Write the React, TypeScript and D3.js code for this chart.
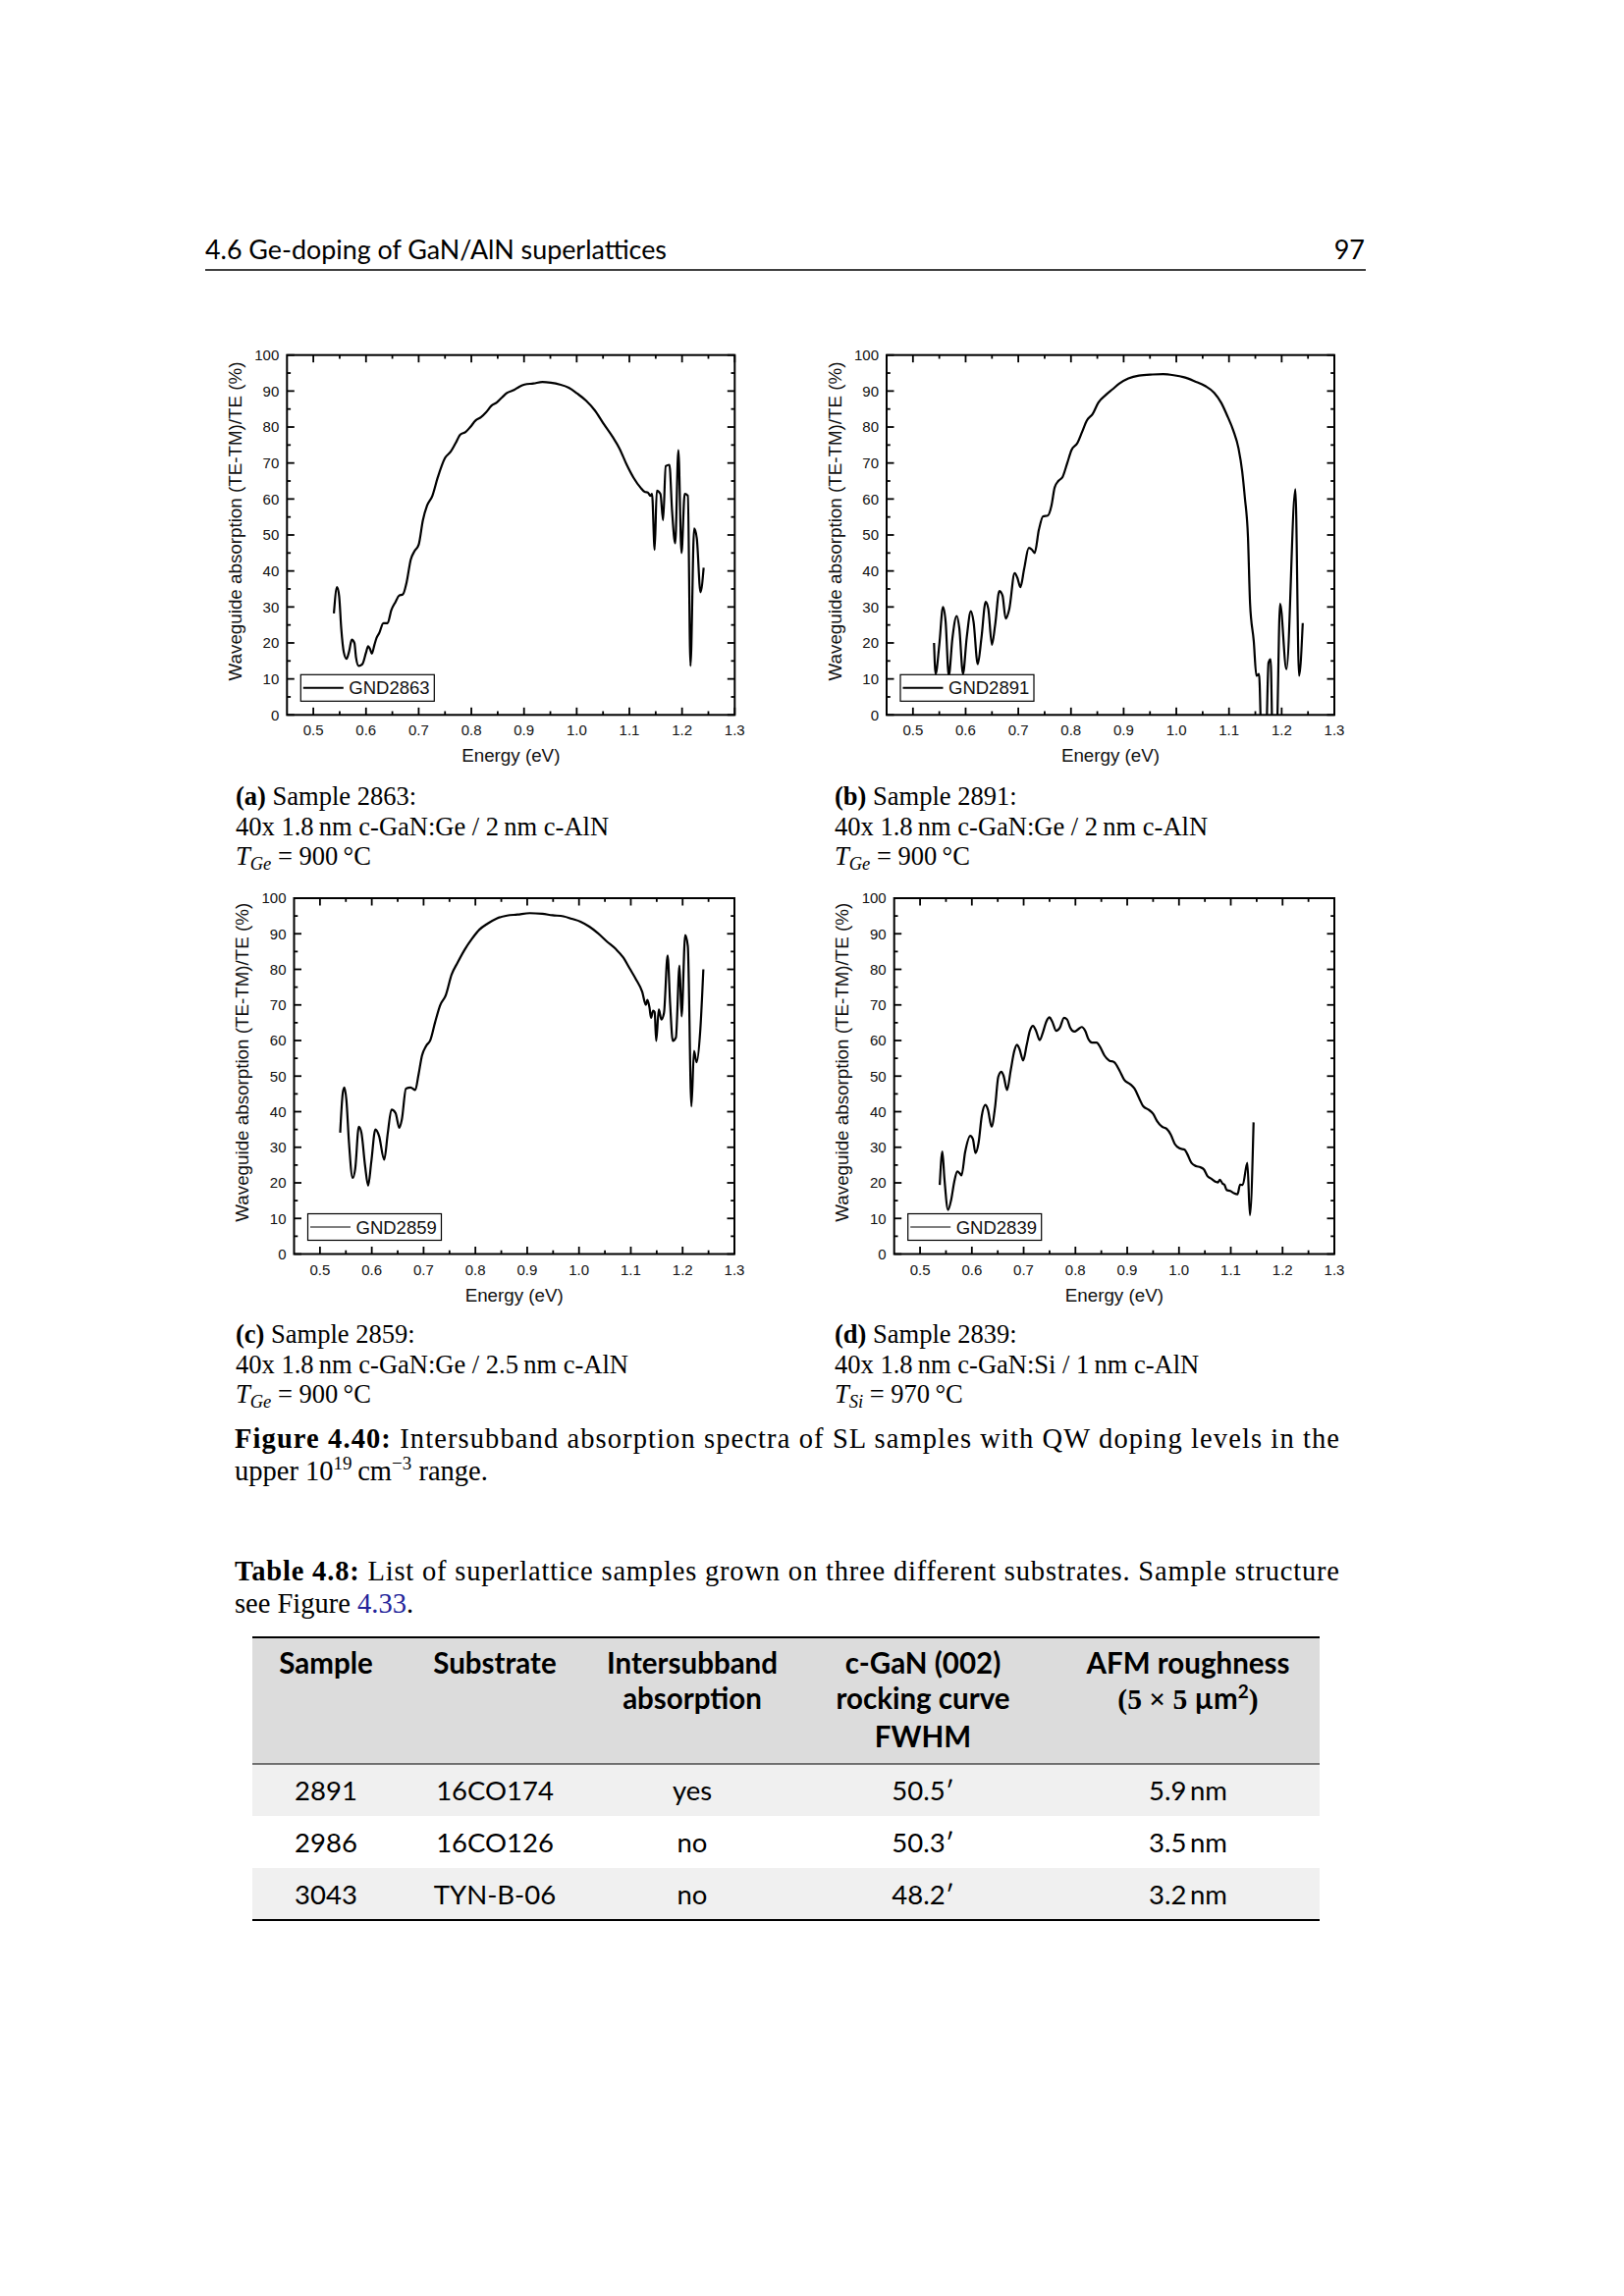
import * as d3 from "d3";

// ---- data (energy eV, absorption %) ----
const gnd2863: [number, number][] = [
  [0.539, 28.2], [0.545, 35.5], [0.549, 33], [0.553, 24], [0.558, 17.3], [0.563, 15.6], [0.568, 17.7],
  [0.573, 20.9], [0.578, 20], [0.581, 16], [0.586, 13.6], [0.593, 14.1], [0.6, 17.3], [0.604, 19.1],
  [0.608, 18.2], [0.611, 17], [0.616, 19.5], [0.62, 21.4], [0.625, 22.7], [0.633, 25.5], [0.641, 25.5],
  [0.648, 29.1], [0.656, 31.4], [0.663, 33.2], [0.67, 33.5], [0.677, 36.8], [0.685, 43.2], [0.692, 45.5],
  [0.7, 47.3], [0.708, 54.1], [0.716, 58.2], [0.726, 60.9], [0.736, 65.9], [0.75, 71.4], [0.761, 73.2],
  [0.77, 75.5], [0.779, 77.9], [0.789, 78.6], [0.798, 80], [0.808, 81.8], [0.818, 82.7], [0.828, 84.1],
  [0.838, 85.9], [0.848, 86.8], [0.858, 88.2], [0.868, 89.5], [0.881, 90.3], [0.891, 91.2], [0.901, 91.8],
  [0.918, 92.1], [0.935, 92.5], [0.951, 92.3], [0.968, 91.8], [0.985, 90.9], [1.001, 89.3], [1.018, 87.3],
  [1.035, 84.5], [1.051, 80.9], [1.068, 77.3], [1.081, 74.1], [1.095, 69.5], [1.108, 65.9], [1.121, 63.2],
  [1.129, 62], [1.135, 61.8], [1.14, 60.9], [1.143, 61.4], [1.148, 45.9], [1.152, 62.3], [1.159, 61.4],
  [1.164, 54.1], [1.169, 69.1], [1.176, 69.5], [1.181, 56.8], [1.187, 47.7], [1.193, 73.6], [1.199, 45],
  [1.205, 61.4], [1.211, 60.9], [1.216, 13.6], [1.223, 51.8], [1.228, 49.1], [1.235, 34.1], [1.241, 40.9],
];

const gnd2891: [number, number][] = [
  [0.54, 20], [0.543, 11.4], [0.55, 19.5], [0.557, 30], [0.562, 25.9], [0.568, 10.9], [0.575, 21.4],
  [0.583, 27.5], [0.588, 24.1], [0.595, 11.4], [0.602, 21.4], [0.61, 28.8], [0.615, 25.9], [0.623, 14.1],
  [0.63, 21.4], [0.638, 31.4], [0.643, 29.5], [0.65, 19.5], [0.656, 25], [0.664, 34.4], [0.67, 33.2],
  [0.676, 26.8], [0.683, 29.5], [0.693, 39.4], [0.698, 38.2], [0.704, 35.5], [0.711, 40.5], [0.72, 46.4],
  [0.726, 45.9], [0.731, 45], [0.739, 51.4], [0.747, 55.2], [0.756, 55.4], [0.763, 58.2], [0.769, 63.2],
  [0.776, 65], [0.784, 66.1], [0.793, 70], [0.801, 73.6], [0.812, 75.5], [0.821, 78.6], [0.83, 81.8],
  [0.841, 83.6], [0.852, 86.8], [0.866, 88.9], [0.879, 90.5], [0.892, 92.1], [0.909, 93.5], [0.929, 94.3],
  [0.955, 94.6], [0.975, 94.7], [0.995, 94.4], [1.015, 93.8], [1.035, 92.7], [1.055, 91.4], [1.072, 89.5],
  [1.085, 86.8], [1.098, 82.7], [1.108, 79.1], [1.118, 74.1], [1.125, 67.7], [1.13, 60.5], [1.136, 49.5],
  [1.14, 30.9], [1.147, 20.5], [1.152, 10.9], [1.157, 11.4], [1.162, -8], [1.17, -8], [1.175, 14.5],
  [1.179, 15.5], [1.183, -8], [1.19, -8], [1.197, 30.9], [1.209, 12.7], [1.226, 62.7], [1.233, 10.9],
  [1.24, 25.5],
];

const gnd2859: [number, number][] = [
  [0.539, 34.1], [0.544, 45.2], [0.547, 46.8], [0.551, 43.3], [0.556, 31.3], [0.563, 21.4], [0.568, 23.9],
  [0.575, 35.8], [0.58, 34.1], [0.587, 24.9], [0.593, 19.2], [0.599, 25.8], [0.607, 35], [0.614, 33.2],
  [0.624, 26.5], [0.631, 34.1], [0.638, 40.6], [0.646, 39.6], [0.653, 35.5], [0.658, 37.8], [0.666, 46.5],
  [0.675, 46.8], [0.684, 46.1], [0.69, 50.2], [0.697, 55.8], [0.705, 58.5], [0.713, 60.1], [0.722, 65],
  [0.732, 69.9], [0.743, 72.8], [0.754, 78.5], [0.766, 82], [0.78, 85.7], [0.793, 88.5], [0.808, 91.2],
  [0.824, 92.9], [0.841, 94.3], [0.861, 95.1], [0.881, 95.4], [0.905, 95.8], [0.929, 95.6], [0.949, 95.2],
  [0.97, 94.9], [0.986, 94.2], [1.003, 93.4], [1.02, 92], [1.037, 90.1], [1.054, 87.8], [1.071, 85.7],
  [1.085, 83.4], [1.098, 80.2], [1.11, 77.2], [1.122, 73.7], [1.129, 70], [1.132, 71.4], [1.136, 69.3],
  [1.139, 66.4], [1.143, 68.4], [1.146, 68], [1.149, 59.9], [1.154, 68.7], [1.159, 65.9], [1.164, 67.7],
  [1.171, 83.9], [1.176, 70], [1.181, 59.9], [1.187, 60.8], [1.194, 81.1], [1.198, 66.8], [1.205, 89.6],
  [1.21, 86.6], [1.217, 41.5], [1.222, 57.1], [1.227, 53.9], [1.234, 62.7], [1.24, 80],
];

const gnd2839: [number, number][] = [
  [0.538, 19.4], [0.543, 28.8], [0.547, 21.2], [0.554, 12.4], [0.56, 15.2], [0.566, 20.3], [0.572, 23.2],
  [0.577, 22.6], [0.58, 22.1], [0.587, 28.6], [0.597, 33.2], [0.602, 32.3], [0.607, 28.4], [0.613, 31.3],
  [0.619, 38.7], [0.626, 41.9], [0.631, 40.6], [0.638, 35.8], [0.645, 41.5], [0.651, 49.8], [0.657, 51.2],
  [0.661, 50.2], [0.668, 46.1], [0.675, 51.6], [0.682, 57.1], [0.687, 58.8], [0.692, 57.6], [0.699, 54.4],
  [0.706, 58.8], [0.712, 62.7], [0.718, 64.1], [0.724, 62.7], [0.731, 60.1], [0.737, 62.2], [0.744, 65.4],
  [0.75, 66.5], [0.755, 65.4], [0.763, 62.7], [0.77, 63.6], [0.778, 66.4], [0.784, 65.9], [0.79, 63.6],
  [0.798, 62.5], [0.805, 63.1], [0.812, 63.8], [0.819, 62.7], [0.825, 60.4], [0.832, 59.4], [0.841, 59.4],
  [0.848, 58.1], [0.856, 55.8], [0.865, 54.4], [0.875, 53.9], [0.885, 51.6], [0.894, 49], [0.906, 47.7],
  [0.914, 46.5], [0.923, 43.8], [0.931, 41.5], [0.941, 40.6], [0.95, 39.4], [0.958, 37.3], [0.967, 35.8],
  [0.976, 35.2], [0.984, 33.6], [0.992, 30.9], [1.001, 29.7], [1.011, 29.3], [1.016, 28.1], [1.024, 25.6],
  [1.033, 24.7], [1.041, 24.4], [1.048, 23.8], [1.055, 21.9], [1.062, 21.2], [1.071, 20.3], [1.075, 20.1],
  [1.079, 20.9], [1.084, 19.8], [1.088, 19.4], [1.092, 18], [1.099, 17.7], [1.106, 17.1], [1.113, 16.8],
  [1.118, 19.5], [1.123, 19.4], [1.132, 25.6], [1.137, 10.9], [1.144, 37],
];

const xMajorTicks = [0.5, 0.6, 0.7, 0.8, 0.9, 1.0, 1.1, 1.2, 1.3];
const yMajorTicks = [0, 10, 20, 30, 40, 50, 60, 70, 80, 90, 100];

const subLabels = ["(a)", "(b)", "(c)", "(d)"];
const subSamples = ["Sample 2863:", "Sample 2891:", "Sample 2859:", "Sample 2839:"];
const subStructures = [
  "40x 1.8\u2009nm c-GaN:Ge / 2\u2009nm c-AlN",
  "40x 1.8\u2009nm c-GaN:Ge / 2\u2009nm c-AlN",
  "40x 1.8\u2009nm c-GaN:Ge / 2.5\u2009nm c-AlN",
  "40x 1.8\u2009nm c-GaN:Si / 1\u2009nm c-AlN",
];
const subDopants = ["Ge", "Ge", "Ge", "Si"];
const subTemps = ["900", "900", "900", "970"];

const tableHeader = [
  ["Sample"],
  ["Substrate"],
  ["Intersubband", "absorption"],
  ["c-GaN (002)", "rocking curve", "FWHM"],
  ["AFM roughness", "AREA"],
];
const tableRows = [
  ["2891", "16CO174", "yes", "50.5\u2032", "5.9\u2009nm"],
  ["2986", "16CO126", "no", "50.3\u2032", "3.5\u2009nm"],
  ["3043", "TYN-B-06", "no", "48.2\u2032", "3.2\u2009nm"],
];

// ---- layout ----
const frames = [
  { name: "GND2863", data: gnd2863, left: 292.3, right: 748.3, top: 361.7, bottom: 728.3, thin: false },
  { name: "GND2891", data: gnd2891, left: 903, right: 1359, top: 361.7, bottom: 728.3, thin: false },
  { name: "GND2859", data: gnd2859, left: 299.5, right: 748, top: 915, bottom: 1277.5, thin: true },
  { name: "GND2839", data: gnd2839, left: 910.7, right: 1359, top: 915, bottom: 1277.5, thin: true },
];

const SANS = "'Liberation Sans', Arial, sans-serif";
const SERIF = "'Liberation Serif', 'Times New Roman', serif";
const CMSS = "Lato, 'DejaVu Sans', sans-serif";
const INK = "#111";

function Plot({ f, idx }: { f: (typeof frames)[number]; idx: number }) {
  const x = d3.scaleLinear().domain([0.45, 1.3]).range([f.left, f.right]);
  const y = d3.scaleLinear().domain([0, 100]).range([f.bottom, f.top]);
  const line = d3
    .line<[number, number]>()
    .x((d) => x(d[0]))
    .y((d) => y(d[1]))
    .curve(d3.curveMonotoneX);

  const xMinor = xMajorTicks.slice(0, -1).map((v) => v + 0.05);
  const yMinor = yMajorTicks.slice(0, -1).map((v) => v + 5);
  const major = 7.5;
  const minor = 3.8;
  const lg = { x: f.left + 14, y: f.bottom - 14 - 27, w: 136, h: 27 };

  return (
    <g>
      <defs>
        <clipPath id={`clip${idx}`}>
          <rect x={f.left} y={f.top} width={f.right - f.left} height={f.bottom - f.top} />
        </clipPath>
      </defs>
      <path
        d={line(f.data) ?? ""}
        fill="none"
        stroke="#000"
        strokeWidth={2.2}
        strokeLinejoin="round"
        clipPath={`url(#clip${idx})`}
      />
      <g stroke="#000" strokeWidth={1.8}>
        {xMajorTicks.map((t) => (
          <g key={`xm${t}`}>
            <line x1={x(t)} x2={x(t)} y1={f.bottom} y2={f.bottom - major} />
            <line x1={x(t)} x2={x(t)} y1={f.top} y2={f.top + major} />
          </g>
        ))}
        {xMinor.map((t) => (
          <g key={`xn${t}`}>
            <line x1={x(t)} x2={x(t)} y1={f.bottom} y2={f.bottom - minor} />
            <line x1={x(t)} x2={x(t)} y1={f.top} y2={f.top + minor} />
          </g>
        ))}
        {yMajorTicks.map((t) => (
          <g key={`ym${t}`}>
            <line x1={f.left} x2={f.left + major} y1={y(t)} y2={y(t)} />
            <line x1={f.right} x2={f.right - major} y1={y(t)} y2={y(t)} />
          </g>
        ))}
        {yMinor.map((t) => (
          <g key={`yn${t}`}>
            <line x1={f.left} x2={f.left + minor} y1={y(t)} y2={y(t)} />
            <line x1={f.right} x2={f.right - minor} y1={y(t)} y2={y(t)} />
          </g>
        ))}
      </g>
      <rect
        x={f.left}
        y={f.top}
        width={f.right - f.left}
        height={f.bottom - f.top}
        fill="none"
        stroke="#000"
        strokeWidth={2}
      />
      <g fontFamily={SANS} fontSize={15} fill={INK}>
        {xMajorTicks.map((t) => (
          <text key={`xl${t}`} x={x(t)} y={f.bottom + 21} textAnchor="middle">
            {d3.format(".1f")(t)}
          </text>
        ))}
        {yMajorTicks.map((t) => (
          <text key={`yl${t}`} x={f.left - 8} y={y(t)} dy="0.36em" textAnchor="end">
            {t}
          </text>
        ))}
      </g>
      <text
        x={(f.left + f.right) / 2}
        y={f.bottom + 48}
        textAnchor="middle"
        fontFamily={SANS}
        fontSize={18.8}
        fill={INK}
      >
        Energy (eV)
      </text>
      <text
        transform={`translate(${f.left - 53},${(f.top + f.bottom) / 2 - 14}) rotate(-90)`}
        textAnchor="middle"
        dy="0.36em"
        fontFamily={SANS}
        fontSize={18.8}
        fill={INK}
      >
        Waveguide absorption (TE-TM)/TE (%)
      </text>
      <rect x={lg.x} y={lg.y} width={lg.w} height={lg.h} fill="#fff" stroke="#000" strokeWidth={1.2} />
      <line
        x1={lg.x + 2.5}
        x2={lg.x + 43.5}
        y1={lg.y + lg.h / 2}
        y2={lg.y + lg.h / 2}
        stroke="#000"
        strokeWidth={f.thin ? 1 : 2}
      />
      <text
        x={lg.x + 49}
        y={lg.y + lg.h / 2}
        dy="0.36em"
        fontFamily={SANS}
        fontSize={18.5}
        fill={INK}
      >
        {f.name}
      </text>
    </g>
  );
}

function SubCaption({ i, x, y }: { i: number; x: number; y: number }) {
  return (
    <g fontFamily={SERIF} fontSize={26.5} fill="#000">
      <text x={x} y={y}>
        <tspan fontWeight="bold">{subLabels[i]}</tspan> {subSamples[i]}
      </text>
      <text x={x} y={y + 30.5}>
        {subStructures[i]}
      </text>
      <text x={x} y={y + 61}>
        <tspan fontStyle="italic">T</tspan>
        <tspan fontStyle="italic" fontSize={18.5} dy={5}>
          {subDopants[i]}
        </tspan>
        <tspan dy={-5}>{` = ${subTemps[i]}\u2009\u00B0C`}</tspan>
      </text>
    </g>
  );
}

function Table() {
  const left = 257;
  const right = 1344;
  const top = 1668;
  const headBottom = 1797;
  const rowH = 53;
  const colX = [332, 504, 705, 940, 1210];
  const headLineY = [1705, 1741, 1780];
  return (
    <g>
      <rect x={left} y={top} width={right - left} height={headBottom - top} fill="#dcdcdc" />
      {tableRows.map((_, r) =>
        r % 2 === 0 ? (
          <rect key={r} x={left} y={headBottom + r * rowH} width={right - left} height={rowH} fill="#f0f0f0" />
        ) : null
      )}
      <line x1={left} x2={right} y1={top} y2={top} stroke="#000" strokeWidth={1.8} />
      <line x1={left} x2={right} y1={headBottom} y2={headBottom} stroke="#000" strokeWidth={1.1} />
      <line
        x1={left}
        x2={right}
        y1={headBottom + 3 * rowH}
        y2={headBottom + 3 * rowH}
        stroke="#000"
        strokeWidth={1.8}
      />
      <g fontFamily={CMSS} fontWeight="bold" fontSize={29.5} fill="#000" textAnchor="middle">
        {tableHeader.map((lines, c) =>
          lines.map((s, k) =>
            s === "AREA" ? (
              <text key={`${c}-${k}`} x={colX[c]} y={headLineY[k]}>
                <tspan fontFamily={SERIF}>(5 × 5 </tspan>
                <tspan>µm</tspan>
                <tspan fontSize={19} dy={-11}>
                  2
                </tspan>
                <tspan fontFamily={SERIF} dy={11}>
                  )
                </tspan>
              </text>
            ) : (
              <text key={`${c}-${k}`} x={colX[c]} y={headLineY[k]}>
                {s}
              </text>
            )
          )
        )}
      </g>
      <g fontFamily={CMSS} fontSize={27.5} fill="#000" textAnchor="middle">
        {tableRows.map((row, r) =>
          row.map((s, c) => (
            <text key={`${r}-${c}`} x={colX[c]} y={headBottom + r * rowH + 37}>
              {s}
            </text>
          ))
        )}
      </g>
    </g>
  );
}

export default function App() {
  return (
    <div style={{ position: "absolute", left: 0, top: 0, background: "#fff" }}>
      <svg width={1654} height={2339} viewBox="0 0 1654 2339" style={{ display: "block" }}>
        <rect width={1654} height={2339} fill="#fff" />
        {/* running header */}
        <text
          x={209}
          y={264}
          fontFamily={CMSS}
          fontSize={27}
          textLength={470}
          lengthAdjust="spacingAndGlyphs"
          fill="#000"
        >
          4.6  Ge-doping of GaN/AlN superlattices
        </text>
        <text x={1390} y={264} fontFamily={CMSS} fontSize={27} textAnchor="end" fill="#000">
          97
        </text>
        <line x1={209} x2={1391} y1={275} y2={275} stroke="#000" strokeWidth={1.3} />

        {frames.map((f, i) => (
          <Plot key={f.name} f={f} idx={i} />
        ))}

        <SubCaption i={0} x={240} y={820} />
        <SubCaption i={1} x={850} y={820} />
        <SubCaption i={2} x={240} y={1368} />
        <SubCaption i={3} x={850} y={1368} />

        <g fontFamily={SERIF} fontSize={28.5} fill="#000">
          <text x={239} y={1475} textLength={1125} lengthAdjust="spacing">
            <tspan fontWeight="bold">Figure 4.40:</tspan> Intersubband absorption spectra of SL samples with QW
            doping levels in the
          </text>
          <text x={239} y={1508}>
            upper 10
            <tspan fontSize={19} dy={-11}>
              19
            </tspan>
            <tspan dy={11}>{"\u2009cm"}</tspan>
            <tspan fontSize={19} dy={-11}>
              −3
            </tspan>
            <tspan dy={11}> range.</tspan>
          </text>
          <text x={239} y={1610} textLength={1125} lengthAdjust="spacing">
            <tspan fontWeight="bold">Table 4.8:</tspan> List of superlattice samples grown on three different
            substrates. Sample structure
          </text>
          <text x={239} y={1643}>
            see Figure <tspan fill="#24249a">4.33</tspan>.
          </text>
        </g>

        <Table />
      </svg>
    </div>
  );
}
